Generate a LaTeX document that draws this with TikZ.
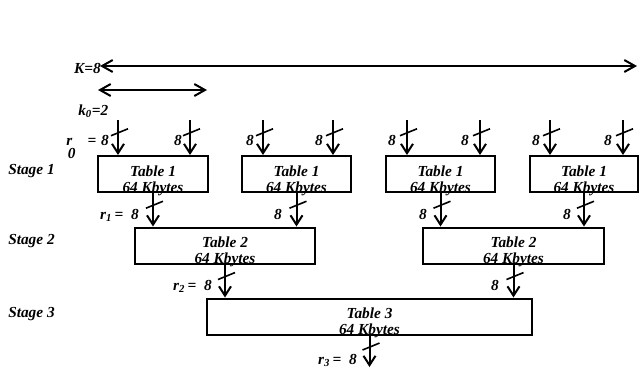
\documentclass[tikz,border=0pt]{standalone}
\usepackage{fontspec}
\setmainfont{Liberation Serif}
\usetikzlibrary{arrows.meta,decorations.markings}

\begin{document}
\begin{tikzpicture}[
  x=0.75pt, y=-0.75pt,
  tbl/.style={draw, rectangle, line width=1.5pt, minimum height=27pt, inner sep=0pt},
  tbltxt/.style={font=\fontsize{11.5}{12}\selectfont\bfseries\itshape, align=center, inner sep=0pt},
  lbl/.style={font=\fontsize{11.5}{12}\selectfont\bfseries\itshape, inner sep=0pt},
  bus/.style={line width=1.5pt, -{Straight Barb[length=7pt,width=9pt]},
    postaction={decorate, decoration={markings, mark=at position 0.35 with
      {\draw[-, line width=1.2pt] (2.6pt,-5.25pt) -- (-2.6pt,7.5pt);}}}},
  span/.style={line width=1.5pt,
    {Straight Barb[length=8pt,width=9pt]}-{Straight Barb[length=8pt,width=9pt]}}
]
  \useasboundingbox (0,0) rectangle (640,369);

  % widths
  \coordinate (kl) at (100,66);
  \coordinate (kr) at (637,66);
  \coordinate (k0l) at (98,90);
  \coordinate (k0r) at (207,90);
  \draw[span] (kl) -- (kr);
  \draw[span] (k0l) -- (k0r);
  \node[lbl, anchor=base east] (klab) at (101,73) {K=8};
  \node[lbl, anchor=base west] (k0lab) at (78,115) {k\textsubscript{0}=2};

  % stages
  \node[lbl, anchor=base west] (st1) at (8,174) {Stage 1};
  \node[lbl, anchor=base west] (st2) at (8,244) {Stage 2};
  \node[lbl, anchor=base west] (st3) at (8,317) {Stage 3};

  \node[tbl, minimum width=82.5pt]  (s1a) at (153,174) {};
  \node[tbl, minimum width=81.75pt] (s1b) at (296.5,174) {};
  \node[tbl, minimum width=81.75pt] (s1c) at (440.5,174) {};
  \node[tbl, minimum width=81pt]    (s1d) at (584,174) {};
  \node[tbl, minimum width=135pt]    (s2a) at (225,245.5) {};
  \node[tbl, minimum width=135.75pt] (s2b) at (513.5,245.5) {};
  \node[tbl, minimum width=243.75pt] (s3)  at (369.5,316.5) {};

  \node[tbltxt, anchor=south] (s1atxt) at ([yshift=-2pt]s1a.south) {Table 1\\64 Kbytes};
  \node[tbltxt, anchor=south] (s1btxt) at ([yshift=-2pt]s1b.south) {Table 1\\64 Kbytes};
  \node[tbltxt, anchor=south] (s1ctxt) at ([yshift=-2pt]s1c.south) {Table 1\\64 Kbytes};
  \node[tbltxt, anchor=south] (s1dtxt) at ([yshift=-2pt]s1d.south) {Table 1\\64 Kbytes};
  \node[tbltxt, anchor=south] (s2atxt) at ([yshift=-2pt]s2a.south) {Table 2\\64 Kbytes};
  \node[tbltxt, anchor=south] (s2btxt) at ([yshift=-2pt]s2b.south) {Table 2\\64 Kbytes};
  \node[tbltxt, anchor=south] (s3txt)  at ([yshift=-2pt]s3.south)  {Table 3\\64 Kbytes};

  % inputs
  \coordinate (i1) at (118,120);
  \coordinate (i2) at (190,120);
  \coordinate (i3) at (263,120);
  \coordinate (i4) at (333,120);
  \coordinate (i5) at (407,120);
  \coordinate (i6) at (480,120);
  \coordinate (i7) at (550,120);
  \coordinate (i8) at (623,120);
  \draw[bus] (i1) -- (i1 |- s1a.north);
  \draw[bus] (i2) -- (i2 |- s1a.north);
  \draw[bus] (i3) -- (i3 |- s1b.north);
  \draw[bus] (i4) -- (i4 |- s1b.north);
  \draw[bus] (i5) -- (i5 |- s1c.north);
  \draw[bus] (i6) -- (i6 |- s1c.north);
  \draw[bus] (i7) -- (i7 |- s1d.north);
  \draw[bus] (i8) -- (i8 |- s1d.north);

  \node[lbl, anchor=base east] (r0) at (109,145)
    {r\kern-0.3em\raisebox{-0.85em}{0}\hspace{0.8em}=\hspace{0.3em}8};
  \node[lbl, anchor=base east] (w2) at (182,145) {8};
  \node[lbl, anchor=base east] (w3) at (254,145) {8};
  \node[lbl, anchor=base east] (w4) at (323,145) {8};
  \node[lbl, anchor=base east] (w5) at (396,145) {8};
  \node[lbl, anchor=base east] (w6) at (469,145) {8};
  \node[lbl, anchor=base east] (w7) at (540,145) {8};
  \node[lbl, anchor=base east] (w8) at (612,145) {8};

  % between stages
  \draw[bus] (s1a.south) -- (s1a.south |- s2a.north);
  \draw[bus] (s1b.south) -- (s1b.south |- s2a.north);
  \draw[bus] (s1c.south) -- (s1c.south |- s2b.north);
  \draw[bus] (s1d.south) -- (s1d.south |- s2b.north);
  \draw[bus] (s2a.south) -- (s2a.south |- s3.north);
  \draw[bus] (s2b.south) -- (s2b.south |- s3.north);
  \coordinate (out) at (369.5,367);
  \draw[bus] (s3.south) -- (out);

  \node[lbl, anchor=base east] (r1) at (139,219) {r\textsubscript{1}\,=\enspace8};
  \node[lbl, anchor=base east] (w10) at (282,219) {8};
  \node[lbl, anchor=base east] (w11) at (427,219) {8};
  \node[lbl, anchor=base east] (w12) at (571,219) {8};
  \node[lbl, anchor=base east] (r2) at (212,290) {r\textsubscript{2}\,=\enspace8};
  \node[lbl, anchor=base east] (w14) at (499,290) {8};
  \node[lbl, anchor=base east] (r3) at (357,364) {r\textsubscript{3}\,=\enspace8};
\end{tikzpicture}
\end{document}
